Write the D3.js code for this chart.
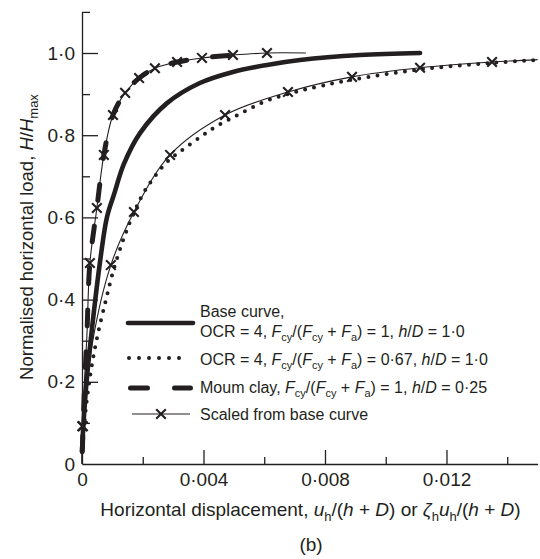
<!DOCTYPE html>
<html>
<head>
<meta charset="utf-8">
<script src="https://cdn.jsdelivr.net/npm/d3@7"></script>
<style>
  body { margin: 0; background: #fff; }
  text { font-family: "Liberation Sans", Arial, Helvetica, sans-serif; fill: #231f20; }
</style>
</head>
<body>
<svg id="chart" width="540" height="559"></svg>
<script>
// Base curve: OCR = 4, Fcy/(Fcy + Fa) = 1, h/D = 1.0
const baseDisp = [0, 0.00005, 0.00015, 0.00033, 0.00059, 0.00082, 0.00105, 0.00138, 0.00191, 0.0028, 0.00388, 0.00497, 0.00609, 0.00718, 0.00915, 0.01113];
const baseLoad = [0.03, 0.10, 0.20, 0.33, 0.49, 0.60, 0.655, 0.73, 0.805, 0.878, 0.927, 0.954, 0.971, 0.983, 0.995, 1.0];

// OCR = 4, Fcy/(Fcy + Fa) = 0.67, h/D = 1.0
const ocrDisp = [0.00002, 0.00012, 0.00028, 0.00049, 0.00079, 0.00105, 0.00138, 0.00168, 0.00207, 0.0028, 0.00323, 0.00388, 0.00444, 0.0052, 0.00609, 0.00718, 0.00882, 0.01113, 0.0135, 0.0150];
const ocrLoad = [0.04, 0.13, 0.22, 0.305, 0.40, 0.475, 0.55, 0.606, 0.665, 0.735, 0.76, 0.795, 0.822, 0.852, 0.884, 0.908, 0.934, 0.960, 0.976, 0.983];

// Moum clay, Fcy/(Fcy + Fa) = 1, h/D = 0.25
const moumDisp = [0.00001, 0.00004, 0.00009, 0.00016, 0.00026, 0.00049, 0.00072, 0.00102, 0.00142, 0.00188, 0.0024, 0.00313, 0.00395, 0.0050];
const moumLoad = [0.03, 0.10, 0.20, 0.31, 0.489, 0.623, 0.752, 0.849, 0.903, 0.939, 0.963, 0.978, 0.988, 0.995];

// Base curve scaled onto the Moum clay test
const scaledMoumDisp = [0, 0.00001, 0.00016, 0.00026, 0.00049, 0.00072, 0.00102, 0.00142, 0.00188, 0.0024, 0.00313, 0.00395, 0.00497, 0.00609, 0.00737];
const scaledMoumLoad = [0, 0.092, 0.31, 0.489, 0.623, 0.752, 0.849, 0.903, 0.939, 0.963, 0.978, 0.988, 0.995, 1.0, 1.0];
const scaledMoumMarkDisp = [0.00001, 0.00026, 0.00049, 0.00072, 0.00102, 0.00142, 0.00188, 0.0024, 0.00313, 0.00395, 0.00497, 0.00609];
const scaledMoumMarkLoad = [0.092, 0.489, 0.623, 0.752, 0.849, 0.903, 0.939, 0.963, 0.978, 0.988, 0.995, 1.0];

// Base curve scaled onto the Fcy/(Fcy + Fa) = 0.67 case
const scaledOcrDisp = [0, 0.00003, 0.00036, 0.00095, 0.00171, 0.0029, 0.00471, 0.00678, 0.00889, 0.01113, 0.0135, 0.0150];
const scaledOcrLoad = [0, 0.092, 0.302, 0.484, 0.613, 0.752, 0.849, 0.905, 0.942, 0.964, 0.978, 0.984];
const scaledOcrMarkDisp = [0.00003, 0.00095, 0.00171, 0.0029, 0.00471, 0.00678, 0.00889, 0.01113, 0.0135];
const scaledOcrMarkLoad = [0.092, 0.484, 0.613, 0.752, 0.849, 0.905, 0.942, 0.964, 0.978];

// Axis ticks
const xTicks = [0, 0.004, 0.008, 0.012];
const xTickLabels = ["0", "0·004", "0·008", "0·012"];
const xMinorTicks = [0.002, 0.006, 0.010, 0.014];
const yTicks = [0, 0.2, 0.4, 0.6, 0.8, 1.0];
const yTickLabels = ["0", "0·2", "0·4", "0·6", "0·8", "1·0"];
const yMinorTicks = [0.1, 0.3, 0.5, 0.7, 0.9, 1.1];

// Rich-text pieces: i = italic, s = subscript
const yTitle = [{t: "Normalised horizontal load, "}, {t: "H", i: 1}, {t: "/"}, {t: "H", i: 1}, {t: "max", s: 1}];
const xTitle = [{t: "Horizontal displacement, "}, {t: "u", i: 1}, {t: "h", s: 1}, {t: "/("}, {t: "h", i: 1}, {t: " + "}, {t: "D", i: 1},
                {t: ") or "}, {t: "ζ", i: 1}, {t: "h", s: 1}, {t: "u", i: 1}, {t: "h", s: 1}, {t: "/("}, {t: "h", i: 1}, {t: " + "}, {t: "D", i: 1}, {t: ")"}];
const panelLabel = "(b)";
const legendRows = [
  [[{t: "Base curve,"}],
   [{t: "OCR = 4, "}, {t: "F", i: 1}, {t: "cy", s: 1}, {t: "/("}, {t: "F", i: 1}, {t: "cy", s: 1}, {t: " + "}, {t: "F", i: 1}, {t: "a", s: 1}, {t: ") = 1, "}, {t: "h", i: 1}, {t: "/"}, {t: "D", i: 1}, {t: " = 1·0"}]],
  [[{t: "OCR = 4, "}, {t: "F", i: 1}, {t: "cy", s: 1}, {t: "/("}, {t: "F", i: 1}, {t: "cy", s: 1}, {t: " + "}, {t: "F", i: 1}, {t: "a", s: 1}, {t: ") = 0·67, "}, {t: "h", i: 1}, {t: "/"}, {t: "D", i: 1}, {t: " = 1·0"}]],
  [[{t: "Moum clay, "}, {t: "F", i: 1}, {t: "cy", s: 1}, {t: "/("}, {t: "F", i: 1}, {t: "cy", s: 1}, {t: " + "}, {t: "F", i: 1}, {t: "a", s: 1}, {t: ") = 1, "}, {t: "h", i: 1}, {t: "/"}, {t: "D", i: 1}, {t: " = 0·25"}]],
  [[{t: "Scaled from base curve"}]]
];

const ink = "#231f20";
const svg = d3.select("#chart");

const x = d3.scaleLinear().domain([0, 0.015]).range([82, 537.6]);
const y = d3.scaleLinear().domain([0, 1.1]).range([464, 11.9]);

function pts(xs, ys) { return xs.map((v, i) => [v, ys[i]]); }

function rich(sel, parts, subSize, subShift) {
  let shifted = false;
  parts.forEach(p => {
    const ts = sel.append("tspan").text(p.t);
    if (p.i) ts.attr("font-style", "italic");
    if (p.s) {
      ts.attr("font-size", subSize).attr("dy", shifted ? 0 : subShift);
      shifted = true;
    } else {
      if (shifted) ts.attr("dy", -subShift);
      shifted = false;
    }
  });
  return sel;
}

// Axes
const xAxis = svg.append("g").attr("transform", `translate(0,${y(0)})`)
  .call(d3.axisBottom(x).tickValues(xTicks).tickFormat((d, i) => xTickLabels[i]).tickSizeInner(-14).tickSizeOuter(0).tickPadding(9));
svg.append("g").attr("transform", `translate(0,${y(0)})`)
  .call(d3.axisBottom(x).tickValues(xMinorTicks).tickFormat("").tickSizeInner(-7).tickSizeOuter(0))
  .select(".domain").remove();
const yAxis = svg.append("g").attr("transform", `translate(${x(0)},0)`)
  .call(d3.axisLeft(y).tickValues(yTicks).tickFormat((d, i) => yTickLabels[i]).tickSizeInner(-16).tickSizeOuter(0).tickPadding(7));
svg.append("g").attr("transform", `translate(${x(0)},0)`)
  .call(d3.axisLeft(y).tickValues(yMinorTicks).tickFormat("").tickSizeInner(-8).tickSizeOuter(0))
  .select(".domain").remove();

svg.selectAll(".domain, .tick line").attr("stroke", ink).attr("stroke-width", 1.3);
svg.selectAll(".tick text").attr("font-family", "Liberation Sans, Arial, sans-serif").attr("font-size", 19).attr("fill", ink);
xAxis.selectAll(".tick").filter(d => d === 0).select("line").remove();
yAxis.selectAll(".tick").filter(d => d === 0).select("line").remove();

// Curves
const line = d3.line().x(d => x(d[0])).y(d => y(d[1])).curve(d3.curveCatmullRom.alpha(0.5));

const styles = {
  base: {w: 4.6, dash: null, cap: "round"},
  ocr: {w: 4, dash: "0,9.2", cap: "round"},
  moum: {w: 5, dash: "16,26", cap: "round"},
  thin: {w: 1.1, dash: null, cap: "butt"}
};
function stroke(sel, s) {
  sel.attr("fill", "none").attr("stroke", ink).attr("stroke-width", s.w).attr("stroke-linecap", s.cap);
  if (s.dash) sel.attr("stroke-dasharray", s.dash);
  return sel;
}

stroke(svg.append("path").attr("d", line(pts(scaledOcrDisp, scaledOcrLoad))), styles.thin);
stroke(svg.append("path").attr("d", line(pts(scaledMoumDisp, scaledMoumLoad))), styles.thin);
stroke(svg.append("path").attr("d", line(pts(ocrDisp, ocrLoad))), styles.ocr);
stroke(svg.append("path").attr("d", line(pts(baseDisp, baseLoad))), styles.base);
stroke(svg.append("path").attr("d", line(pts(moumDisp, moumLoad))), styles.moum);

// Cross markers
const crossPath = "M-4.8,-4.8L4.8,4.8M-4.8,4.8L4.8,-4.8";
function crosses(data) {
  svg.append("g").selectAll("path").data(data).join("path")
    .attr("transform", d => `translate(${x(d[0])},${y(d[1])})`)
    .attr("d", crossPath).attr("stroke", ink).attr("stroke-width", 2.1).attr("fill", "none");
}
crosses(pts(scaledMoumMarkDisp, scaledMoumMarkLoad));
crosses(pts(scaledOcrMarkDisp, scaledOcrMarkLoad));

// Legend
const lg = svg.append("g");
const legendLineY = [323, 358, 388, 414];
const legendTextY = [[317, 337], [365], [393], [420]];
const legendStyles = [styles.base, styles.ocr, styles.moum, styles.thin];
legendStyles.forEach((s, i) => {
  const x0 = i === 3 ? 132 : 128, x1 = i === 1 ? 189 : (i === 3 ? 190 : 193);
  const p = lg.append("path").attr("d", `M${x0},${legendLineY[i]}H${x1}`);
  stroke(p, s);
  if (i === 2) p.attr("stroke-dasharray", "17,27").attr("d", `M${x0 + 2.5},${legendLineY[i]}H${x1 - 2.5}`);
  if (i === 1) p.attr("d", `M${x0 + 1},${legendLineY[i]}H${x1}`).attr("stroke-dasharray", "0,10");
});
lg.append("path").attr("transform", `translate(161,${legendLineY[3]})`).attr("d", crossPath)
  .attr("stroke", ink).attr("stroke-width", 2.1);
legendRows.forEach((rows, i) => {
  rows.forEach((parts, j) => {
    rich(lg.append("text").attr("x", 200).attr("y", legendTextY[i][j]).attr("font-size", 16), parts, 11, 4);
  });
});

// Axis titles
rich(svg.append("text").attr("text-anchor", "middle").attr("font-size", 18.5)
  .attr("transform", "translate(33,237) rotate(-90)"), yTitle, 13, 4.5);
rich(svg.append("text").attr("text-anchor", "middle").attr("font-size", 19)
  .attr("x", 310.5).attr("y", 516), xTitle, 13, 4.5);
svg.append("text").attr("text-anchor", "middle").attr("font-size", 19)
  .attr("x", 311).attr("y", 551).text(panelLabel);
</script>
</body>
</html>
